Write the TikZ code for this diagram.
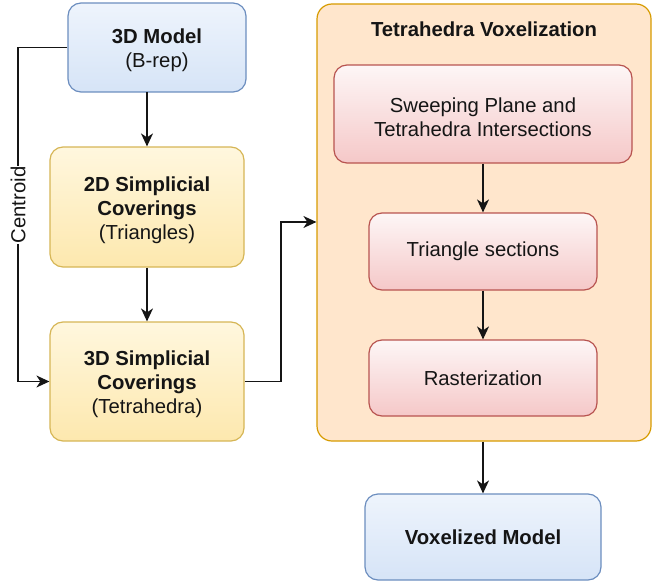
\documentclass[tikz,border=0pt]{standalone}
\usepackage{fontspec}
\setmainfont{Liberation Sans}
\usetikzlibrary{arrows.meta}
\newcommand\mytstrut{\rule{0pt}{20.5pt}}
\definecolor{txt}{HTML}{151515}
\definecolor{bluestroke}{HTML}{6C8EBF}
\definecolor{bluetop}{HTML}{EEF4FC}
\definecolor{bluebot}{HTML}{D6E4F7}
\definecolor{yelstroke}{HTML}{D6B656}
\definecolor{yeltop}{HTML}{FFF7DE}
\definecolor{yelbot}{HTML}{FDE8AE}
\definecolor{redstroke}{HTML}{B85450}
\definecolor{redtop}{HTML}{FDF6F6}
\definecolor{redbot}{HTML}{F5C8C8}
\definecolor{contfill}{HTML}{FFE6CC}
\definecolor{contstroke}{HTML}{D79B00}
\tikzset{
  base/.style={rectangle, rounded corners=13pt, line width=1.2pt, align=center,
    text=txt, font=\fontsize{20.3}{24}\selectfont, inner sep=0pt},
  bluebox/.style={base, draw=bluestroke, top color=bluetop, bottom color=bluebot},
  yelbox/.style={base, draw=yelstroke, top color=yeltop, bottom color=yelbot},
  redbox/.style={base, draw=redstroke, top color=redtop, bottom color=redbot},
  conn/.style={line width=1.3pt, draw=txt, -{Stealth[length=13pt,width=12pt,inset=4pt]}},
}
\begin{document}
\begin{tikzpicture}[x=1pt,y=-1pt]
\useasboundingbox (0,0) rectangle (666,583);
% container
\node[base, draw=contstroke, fill=contfill, rounded corners=15pt,
  minimum width=334pt, minimum height=437pt] (cont) at (484,222.5) {};
\node[text=txt, font=\fontsize{20.3}{24}\selectfont\bfseries] (title) at (484,29) {Tetrahedra Voxelization};
% left column
\node[bluebox, minimum width=178pt, minimum height=89pt] (m3d) at (157,47.5)
  {\mytstrut\textbf{3D Model}\\(B-rep)};
\node[yelbox, minimum width=194pt, minimum height=120pt] (s2d) at (147,207)
  {\mytstrut\textbf{2D Simplicial}\\\textbf{Coverings}\\(Triangles)};
\node[yelbox, minimum width=194pt, minimum height=119pt] (s3d) at (147,381.5)
  {\mytstrut\textbf{3D Simplicial}\\\textbf{Coverings}\\(Tetrahedra)};
% inner column
\node[redbox, minimum width=298pt, minimum height=98pt] (sweep) at (483,114)
  {\mytstrut Sweeping Plane and\\Tetrahedra Intersections};
\node[redbox, minimum width=228pt, minimum height=77pt] (tri) at (483,251.5)
  {Triangle sections};
\node[redbox, minimum width=228pt, minimum height=76pt] (rast) at (483,378)
  {Rasterization};
% output
\node[bluebox, minimum width=236pt, minimum height=86pt] (vox) at (483,537)
  {\textbf{Voxelized Model}};
% connectors
\coordinate (m3dout) at (147,92);
\draw[conn] (m3dout) -- (s2d.north);
\draw[conn] (s2d.south) -- (s3d.north);
\draw[conn] (m3d.west) -- (18,47.5) -- (18,381.5) -- (s3d.west);
\node[fill=white, rotate=90, text=txt, font=\fontsize{20.3}{24}\selectfont, inner sep=1pt] (cent) at (18,205) {Centroid};
\draw[conn] (s3d.east) -- (281,381.5) -- (281,222) -- (cont.west |- 0,222);
\draw[conn] (sweep.south) -- (tri.north);
\draw[conn] (tri.south) -- (rast.north);
\draw[conn] (vox.north |- cont.south) -- (vox.north);
\end{tikzpicture}
\end{document}
